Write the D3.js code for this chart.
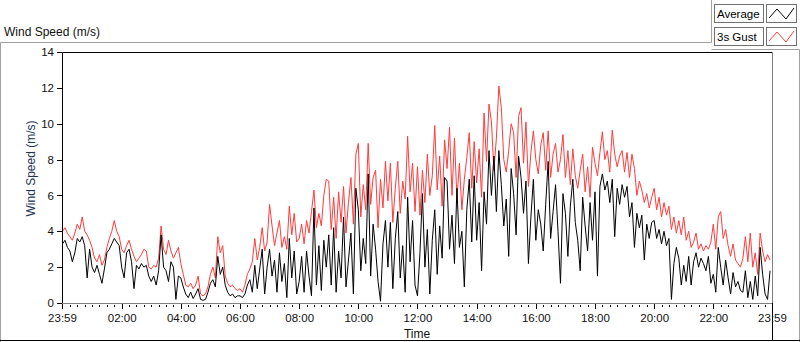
<!DOCTYPE html>
<html>
<head>
<meta charset="utf-8">
<script src="https://cdn.jsdelivr.net/npm/d3@7"></script>
<style>
  html, body { margin: 0; padding: 0; background: #ffffff; }
  svg { display: block; }
  text { font-family: "Liberation Sans", Arial, sans-serif; }
</style>
</head>
<body>
<svg id="chart" width="800" height="342"></svg>
<script>
// ---- data (one sample every 5 minutes) ----
const sampleStepMinutes = 5;
const sampleTimes = d3.range(0, 1440, sampleStepMinutes); // minutes after midnight

const gust = [
  4.0,4.2,3.9,3.7,3.5,3.9,4.4,4.1,4.8,4.0,3.8,3.5,
  3.1,2.5,2.3,2.7,2.1,2.4,3.1,3.6,4.0,4.6,4.0,3.7,
  3.0,2.8,3.2,3.5,3.0,2.6,2.3,2.5,2.7,3.0,2.9,2.0,
  1.9,2.1,2.0,2.5,4.3,3.0,2.7,3.5,2.9,2.5,2.8,3.1,
  2.2,1.6,1.0,0.9,1.1,0.8,1.0,1.5,0.5,0.4,0.5,0.9,
  1.6,2.0,1.4,3.7,2.8,3.2,1.5,1.1,0.9,1.0,0.8,0.7,
  0.8,0.6,1.0,1.6,1.9,2.3,3.6,2.4,3.1,4.2,2.9,3.4,
  5.5,4.3,3.2,3.9,4.6,3.1,3.7,3.0,5.4,3.8,5.0,3.4,
  3.6,4.4,3.3,4.6,3.9,5.1,6.3,4.2,5.0,4.3,6.0,6.9,
  6.8,4.1,5.9,3.6,6.2,4.5,6.5,3.9,5.6,7.0,4.4,8.3,
  8.9,4.8,6.6,5.2,8.9,5.5,7.0,7.4,4.2,6.9,5.3,7.9,
  5.7,7.8,4.5,6.4,7.9,5.0,6.8,5.8,9.3,6.2,7.8,5.1,
  7.6,4.9,7.4,5.6,8.3,6.0,7.1,9.9,6.3,8.2,5.4,9.1,
  7.5,9.8,6.0,9.2,5.8,7.8,5.2,6.9,8.1,9.5,6.4,9.0,
  6.7,8.6,5.9,10.6,7.9,11.1,10.1,7.4,9.2,12.1,10.9,8.0,
  7.3,8.5,10.0,9.5,7.0,10.4,10.9,7.8,10.1,6.5,8.4,9.6,
  8.0,7.2,8.8,9.5,7.4,9.6,7.0,8.3,8.9,7.3,8.0,9.4,
  7.0,8.5,6.6,8.6,7.1,6.4,7.4,8.3,6.2,7.6,5.9,8.7,
  7.8,7.1,8.4,9.55,8.0,8.5,7.3,9.65,8.3,7.6,8.2,8.5,
  7.3,8.4,7.0,8.3,7.5,6.0,6.8,6.3,5.6,6.1,5.3,5.9,
  6.4,5.2,5.9,4.8,5.6,4.9,5.4,4.1,4.8,3.9,4.6,3.8,
  4.8,3.5,4.0,3.1,3.4,3.9,3.0,3.3,2.9,3.2,3.0,3.4,
  4.4,3.0,4.8,5.1,3.6,4.1,3.2,2.6,3.3,2.4,2.2,2.0,
  2.5,3.7,2.3,3.9,2.0,2.8,1.6,3.9,2.9,2.3,2.7,2.4
];

const average = [
  3.3,3.5,3.1,2.9,2.3,2.8,3.6,3.4,3.7,3.2,1.4,3.0,
  2.0,1.7,2.1,1.6,1.1,1.9,2.8,3.0,3.3,3.6,3.4,3.2,
  2.0,1.4,2.8,3.0,2.3,0.8,2.1,1.9,2.2,2.0,2.1,1.5,
  1.2,1.5,1.0,1.8,3.8,2.0,1.8,1.2,2.3,2.0,0.2,1.5,
  1.4,0.9,0.5,0.3,0.6,0.25,0.5,0.8,0.2,0.15,0.2,0.6,
  1.1,1.3,0.9,2.6,1.6,2.0,1.0,0.6,0.4,0.5,0.3,0.4,
  0.4,0.3,0.5,1.0,1.3,0.6,2.1,0.8,1.9,3.0,0.5,2.0,
  3.0,1.5,2.4,0.6,2.8,1.2,2.2,0.3,3.6,1.4,2.9,0.5,
  1.2,2.6,0.6,2.9,1.5,0.4,5.3,1.0,3.2,0.7,3.5,2.0,
  3.8,1.0,4.2,0.6,2.9,1.4,4.8,0.9,2.4,3.9,0.5,6.4,
  5.2,1.8,3.6,2.2,7.2,1.5,4.4,3.0,1.2,0.1,3.3,4.6,
  2.0,4.5,0.8,3.6,5.1,1.4,3.2,0.6,5.9,2.3,4.6,1.0,
  0.4,2.8,6.1,2.0,4.1,0.5,3.5,5.2,1.6,4.3,2.5,7.0,
  6.8,3.0,4.9,2.2,6.4,3.1,4.0,0.9,5.2,6.9,3.4,7.1,
  3.5,5.6,1.8,6.2,4.4,8.5,6.0,8.2,5.1,8.5,6.6,4.3,
  5.8,2.6,7.5,6.1,3.8,8.2,7.0,5.0,6.8,2.2,4.8,6.9,
  3.5,5.2,4.4,2.9,5.5,7.9,3.6,5.1,6.6,4.0,1.1,6.1,
  5.0,2.6,5.4,6.9,4.5,3.5,1.8,5.9,4.3,2.9,5.6,3.5,
  6.2,1.5,6.5,7.2,6.3,6.8,5.6,6.9,3.7,6.4,5.5,6.6,
  5.9,6.5,4.8,5.6,3.1,5.0,4.2,4.9,2.4,4.4,3.6,4.5,
  4.6,3.6,4.1,3.3,4.0,3.2,3.6,0.2,2.2,3.1,2.5,1.0,
  2.1,1.2,2.6,1.0,2.3,2.8,2.0,2.5,2.2,1.8,2.6,1.1,
  1.6,0.6,3.1,2.0,1.0,2.4,1.4,0.5,1.7,0.9,1.2,0.7,
  0.6,1.8,0.3,1.2,0.2,1.5,0.4,3.1,1.6,0.5,0.2,1.8
];

const yTickValues = [0, 2, 4, 6, 8, 10, 12, 14];
const xTickMinutes = [-1, 120, 240, 360, 480, 600, 720, 840, 960, 1080, 1200, 1320, 1439];
const xTickLabels = ["23:59","02:00","04:00","06:00","08:00","10:00","12:00","14:00","16:00","18:00","20:00","22:00","23:59"];
const seriesNames = ["Average", "3s Gust"];
const seriesColors = ["#000000", "#ff3b3b"];

// ---- layout ----
const svg = d3.select("#chart");
const plot = { left: 62, right: 772, top: 52, bottom: 303 };

const x = d3.scaleLinear().domain([-1, 1439]).range([plot.left, plot.right]);
const y = d3.scaleLinear().domain([0, 14]).range([plot.bottom, plot.top]);

// outer control frame
svg.append("path")
  .attr("d", "M0.5,342 V42.5 H711.5 V0")
  .attr("fill", "none").attr("stroke", "#a0a0a0").attr("stroke-width", 1);
svg.append("path")
  .attr("d", "M711.5,49.5 H799.5 V342")
  .attr("fill", "none").attr("stroke", "#a0a0a0").attr("stroke-width", 1);
svg.append("line")
  .attr("x1", 0).attr("x2", 800).attr("y1", 340.5).attr("y2", 340.5)
  .attr("stroke", "#000").attr("stroke-width", 1);

// title
svg.append("text")
  .attr("x", 4).attr("y", 36)
  .attr("font-size", 12).attr("fill", "#111")
  .text("Wind Speed (m/s)");

// plot background
svg.append("rect")
  .attr("x", plot.left).attr("y", plot.top)
  .attr("width", plot.right - plot.left).attr("height", plot.bottom - plot.top)
  .attr("fill", "#ffffff");

// clip
svg.append("clipPath").attr("id", "clip")
  .append("rect")
  .attr("x", plot.left + 1).attr("y", plot.top + 1)
  .attr("width", plot.right - plot.left - 1).attr("height", plot.bottom - plot.top - 1);

// series
const line = d3.line()
  .x((d, i) => x(sampleTimes[i]))
  .y(d => y(d));

const g = svg.append("g").attr("clip-path", "url(#clip)");
g.append("path").datum(gust)
  .attr("d", line).attr("fill", "none")
  .attr("stroke", seriesColors[1]).attr("stroke-width", 1);
g.append("path").datum(average)
  .attr("d", line).attr("fill", "none")
  .attr("stroke", seriesColors[0]).attr("stroke-width", 1);

// plot frame: top/left dark, bottom/right grey
svg.append("path")
  .attr("d", `M${plot.left + 0.5},${plot.bottom} V${plot.top + 0.5} H${plot.right + 0.5}`)
  .attr("fill", "none").attr("stroke", "#000").attr("stroke-width", 1);
svg.append("path")
  .attr("d", `M${plot.left},${plot.bottom + 0.5} H${plot.right + 0.5} V${plot.top}`)
  .attr("fill", "none").attr("stroke", "#808080").attr("stroke-width", 1);
svg.append("line")
  .attr("x1", plot.right + 0.5).attr("x2", plot.right + 0.5)
  .attr("y1", plot.bottom).attr("y2", 341)
  .attr("stroke", "#000").attr("stroke-width", 1);

// y axis
const yAxis = d3.axisLeft(y).tickValues(yTickValues).tickSize(5).tickPadding(3);
const yg = svg.append("g")
  .attr("transform", `translate(${plot.left},0)`)
  .call(yAxis);
yg.select(".domain").remove();
yg.selectAll("text").attr("font-size", 11.5).attr("font-family", "Liberation Sans, Arial, sans-serif").attr("fill", "#111");
yg.selectAll("line").attr("stroke", "#000").attr("shape-rendering", "crispEdges");

// x axis major ticks
const xAxis = d3.axisBottom(x).tickValues(xTickMinutes)
  .tickFormat((d, i) => xTickLabels[i]).tickSize(5).tickPadding(5);
const xg = svg.append("g")
  .attr("transform", `translate(0,${plot.bottom + 0.5})`)
  .call(xAxis);
xg.select(".domain").remove();
xg.selectAll("text").attr("font-size", 11.5).attr("font-family", "Liberation Sans, Arial, sans-serif").attr("fill", "#111");
xg.selectAll("line").attr("stroke", "#000").attr("shape-rendering", "crispEdges");

// x axis minor ticks
const minorTicks = d3.range(15, 1439, 15).filter(m => m % 120 !== 0);
const xMinor = d3.axisBottom(x).tickValues(minorTicks).tickSize(2).tickFormat("");
const xmg = svg.append("g")
  .attr("transform", `translate(0,${plot.bottom + 1.5})`)
  .call(xMinor);
xmg.select(".domain").remove();
xmg.selectAll("line").attr("stroke", "#000").attr("shape-rendering", "crispEdges");

// axis titles
svg.append("text")
  .attr("x", (plot.left + plot.right) / 2).attr("y", 338)
  .attr("text-anchor", "middle").attr("font-size", 12).attr("fill", "#111")
  .text("Time");
svg.append("text")
  .attr("transform", `translate(35,${(plot.top + plot.bottom) / 2 - 9}) rotate(-90)`)
  .attr("text-anchor", "middle").attr("font-size", 12).attr("fill", "#1d3358")
  .text("Wind Speed (m/s)");

// legend
const legend = svg.append("g");
seriesNames.forEach((name, i) => {
  const top = 4 + i * 23;
  legend.append("rect")
    .attr("x", 714.5).attr("y", top + 0.5).attr("width", 49).attr("height", 18)
    .attr("fill", "#fff").attr("stroke", "#707070");
  legend.append("text")
    .attr("x", 717).attr("y", top + 14)
    .attr("font-size", 11.5).attr("fill", "#000")
    .text(name);
  legend.append("rect")
    .attr("x", 766.5).attr("y", top + 0.5).attr("width", 30).attr("height", 18)
    .attr("fill", "#fff").attr("stroke", "#707070");
  legend.append("path")
    .attr("d", `M769,${top + 14} L777,${top + 5} L786,${top + 15} L794,${top + 4}`)
    .attr("fill", "none").attr("stroke", seriesColors[i]).attr("stroke-width", 1);
});
</script>
</body>
</html>
